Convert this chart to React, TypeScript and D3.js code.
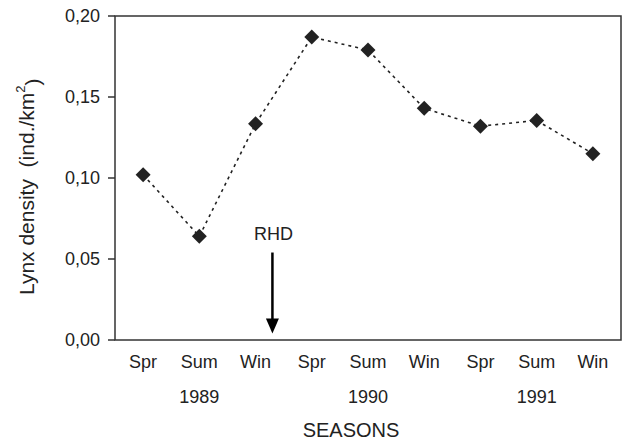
import React from "react";
import * as d3 from "d3";

// seasons along the x axis, with the year written under the middle one
const seasons = ["Spr", "Sum", "Win", "Spr", "Sum", "Win", "Spr", "Sum", "Win"];
const years = ["1989", "1990", "1991"];
const yearUnder = [1, 4, 7];
const density = [0.102, 0.064, 0.1335, 0.187, 0.179, 0.143, 0.132, 0.1355, 0.115];
const yTicks = [0, 0.05, 0.1, 0.15, 0.2];

// RHD outbreak marker (position in season index units, value range of arrow)
const rhdAt = 2.3;
const rhdFrom = 0.054;
const rhdTo = 0.004;

const W = 623;
const H = 441;
const margin = { top: 16, right: 2, bottom: 101, left: 115 };
const ink = "#222";
const font = "'Liberation Sans', Arial, sans-serif";

export default function App() {
  const x = d3
    .scalePoint<number>()
    .domain(seasons.map((_, i) => i))
    .range([margin.left, W - margin.right])
    .padding(0.5);
  const xi = d3
    .scaleLinear()
    .domain([0, seasons.length - 1])
    .range([x(0)!, x(seasons.length - 1)!]);
  const y = d3.scaleLinear().domain([0, 0.2]).range([H - margin.bottom, margin.top]);

  const line = d3
    .line<number>()
    .x((_, i) => x(i)!)
    .y((d) => y(d));
  const diamond = d3.symbol().type(d3.symbolSquare).size(112)();
  const fmt = (v: number) => d3.format(".2f")(v).replace(".", ",");

  const x0 = margin.left;
  const x1 = W - margin.right;
  const y0 = y(0);
  const ax = xi(rhdAt);

  return (
    <svg
      width={W}
      height={H}
      style={{ position: "absolute", left: 0, top: 0, background: "#fff" }}
      fontFamily={font}
    >
      {/* frame */}
      <rect x={x0} y={margin.top} width={x1 - x0} height={y0 - margin.top} fill="none" stroke="#333" strokeWidth={1.5} />

      {/* y ticks */}
      {yTicks.map((t) => (
        <g key={t}>
          <line x1={x0 - 7} x2={x0} y1={y(t)} y2={y(t)} stroke="#333" strokeWidth={1.5} />
          <text x={x0 - 15} y={y(t)} dy="0.35em" textAnchor="end" fontSize={18} fill={ink}>
            {fmt(t)}
          </text>
        </g>
      ))}

      {/* x labels */}
      {seasons.map((s, i) => (
        <text key={i} x={x(i)} y={y0 + 22} dy="0.35em" textAnchor="middle" fontSize={18} fill={ink}>
          {s}
        </text>
      ))}
      {years.map((yr, k) => (
        <text key={yr} x={x(yearUnder[k])} y={y0 + 57} dy="0.35em" textAnchor="middle" fontSize={18} fill={ink}>
          {yr}
        </text>
      ))}
      <text x={351} y={y0 + 90} dy="0.35em" textAnchor="middle" fontSize={20} fill={ink}>
        SEASONS
      </text>

      {/* y title */}
      <text transform={`translate(27,${y0 - 45}) rotate(-90)`} dy="0.35em" textAnchor="start" fontSize={21} fill={ink}>
        Lynx density{"\u00a0\u00a0"}(ind./km
        <tspan fontSize={13} dy="-0.7em">2</tspan>
        <tspan dy="0.7em">)</tspan>
      </text>

      {/* series */}
      <path d={line(density) ?? ""} fill="none" stroke={ink} strokeWidth={1.6} strokeDasharray="3 4" />
      {density.map((v, i) => (
        <path key={i} d={diamond ?? ""} transform={`translate(${x(i)},${y(v)}) rotate(45)`} fill={ink} />
      ))}

      {/* RHD arrow */}
      <text x={ax + 1} y={y(rhdFrom) - 13} textAnchor="middle" fontSize={18} fill={ink}>
        RHD
      </text>
      <line x1={ax} x2={ax} y1={y(rhdFrom)} y2={y(rhdTo) - 8} stroke="#000" strokeWidth={2.5} />
      <path
        d={`M${ax - 6.5},${y(rhdTo) - 15}L${ax + 6.5},${y(rhdTo) - 15}L${ax},${y(rhdTo)}Z`}
        fill="#000"
      />
    </svg>
  );
}
